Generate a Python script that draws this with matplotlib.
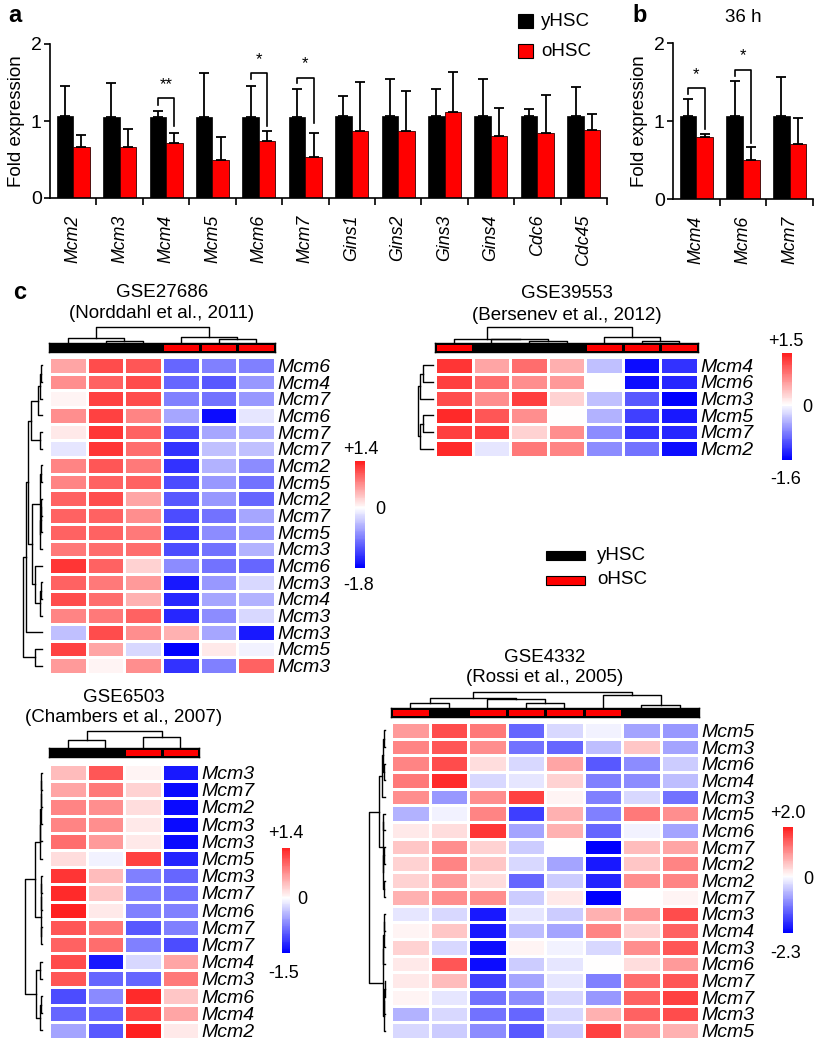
import numpy as np
import matplotlib
matplotlib.use("Agg")
import matplotlib.pyplot as plt
from matplotlib.colors import LinearSegmentedColormap, TwoSlopeNorm, ListedColormap
from matplotlib.patches import Rectangle

plt.rcParams['font.family'] = ['Liberation Sans', 'DejaVu Sans']

# ---------------- data: panel a ----------------
genes_a = ['Mcm2', 'Mcm3', 'Mcm4', 'Mcm5', 'Mcm6', 'Mcm7', 'Gins1', 'Gins2', 'Gins3', 'Gins4', 'Cdc6', 'Cdc45']
yhsc_a = [1.07, 1.05, 1.05, 1.05, 1.05, 1.05, 1.07, 1.07, 1.07, 1.07, 1.07, 1.07]
yhsc_a_err = [0.39, 0.44, 0.08, 0.57, 0.41, 0.36, 0.26, 0.47, 0.35, 0.47, 0.09, 0.37]
ohsc_a = [0.66, 0.66, 0.71, 0.50, 0.74, 0.53, 0.87, 0.87, 1.12, 0.81, 0.85, 0.88]
ohsc_a_err = [0.16, 0.23, 0.13, 0.29, 0.13, 0.32, 0.64, 0.52, 0.51, 0.36, 0.49, 0.21]
# significance: (gene index, left foot, top, right foot, star y, label)
sig_a = [(2, 1.21, 1.30, 0.94, 1.47, '**'),
         (4, 1.54, 1.62, 0.93, 1.80, '*'),
         (5, 1.49, 1.56, 0.97, 1.75, '*')]

# ---------------- data: panel b ----------------
genes_b = ['Mcm4', 'Mcm6', 'Mcm7']
yhsc_b = [1.07, 1.07, 1.07]
yhsc_b_err = [0.21, 0.44, 0.50]
ohsc_b = [0.80, 0.50, 0.71]
ohsc_b_err = [0.03, 0.17, 0.33]
sig_b = [(0, 1.34, 1.42, 0.90, 1.60, '*'),
         (1, 1.58, 1.65, 0.72, 1.84, '*')]

# ---------------- data: heatmaps ----------------
# GSE27686
h1_rows = ['Mcm6', 'Mcm4', 'Mcm7', 'Mcm6', 'Mcm7', 'Mcm7', 'Mcm2', 'Mcm5', 'Mcm2', 'Mcm7',
           'Mcm5', 'Mcm3', 'Mcm6', 'Mcm3', 'Mcm4', 'Mcm3', 'Mcm3', 'Mcm5', 'Mcm3']
h1_groups = ['y', 'y', 'y', 'o', 'o', 'o']
h1_range = (-1.8, 1.4)
h1_vals = [
    [0.56, 1.12, 1.05, -1.08, -0.90, -0.90],
    [0.70, 0.98, 1.12, -1.08, -1.17, -0.72],
    [0.07, 1.19, 1.12, -0.90, -0.99, -0.72],
    [0.70, 1.19, 0.77, -0.63, -1.71, -0.18],
    [0.14, 1.26, 0.98, -1.26, -0.63, -0.54],
    [-0.18, 1.26, 0.91, -1.44, -0.45, -0.45],
    [0.77, 1.05, 0.84, -1.44, -0.54, -0.81],
    [0.77, 0.98, 0.98, -1.26, -0.72, -0.99],
    [0.98, 1.12, 0.56, -1.17, -0.72, -1.08],
    [0.98, 0.98, 0.70, -1.26, -0.99, -0.63],
    [0.98, 0.98, 0.84, -1.35, -0.81, -0.72],
    [0.84, 0.91, 0.91, -1.26, -0.99, -0.54],
    [1.26, 0.98, 0.28, -0.81, -0.99, -1.08],
    [0.98, 0.84, 0.63, -1.62, -0.72, -0.27],
    [1.12, 0.91, 0.49, -1.53, -0.63, -0.54],
    [0.77, 0.84, 0.98, -1.53, -0.81, -0.27],
    [-0.45, 1.12, 0.70, 0.49, -0.63, -1.62],
    [1.19, 0.56, -0.27, -1.80, 0.14, -0.09],
    [0.63, 0.07, 0.70, -1.44, -0.90, 0.98],
]
h1_row_tree = [(0, 1, 0.05), (19, 2, 0.13), (20, 3, 0.22), (4, 5, 0.09), (21, 22, 0.6),
               (6, 7, 0.04), (8, 9, 0.04), (25, 10, 0.07), (26, 11, 0.1), (24, 27, 0.13),
               (13, 14, 0.05), (29, 15, 0.1), (12, 30, 0.36), (28, 31, 0.55), (23, 32, 0.73),
               (33, 16, 0.85), (17, 18, 0.36), (34, 35, 1.0)]
h1_col_tree = [(1, 2, 0.13), (0, 6, 0.29), (4, 5, 0.22), (3, 8, 0.4), (7, 9, 1.0)]

# GSE39553
h2_rows = ['Mcm4', 'Mcm6', 'Mcm3', 'Mcm5', 'Mcm7', 'Mcm2']
h2_groups = ['o', 'y', 'y', 'y', 'o', 'o', 'o']
h2_range = (-1.6, 1.5)
h2_vals = [
    [1.35, 0.60, 0.98, 0.53, -0.40, -1.52, -1.28],
    [1.28, 0.98, 0.75, 0.68, 0.00, -1.52, -1.36],
    [1.20, 0.75, 1.28, 0.30, -0.40, -1.04, -1.60],
    [1.43, 1.13, 0.75, 0.00, -0.48, -1.20, -1.44],
    [1.28, 1.28, 0.30, 0.75, -0.72, -1.28, -1.36],
    [1.43, -0.16, 0.90, 0.83, -0.72, -0.88, -1.52],
]
h2_row_tree = [(0, 1, 0.67), (6, 2, 0.87), (3, 4, 0.67), (8, 5, 0.87), (7, 9, 1.0)]
h2_col_tree = [(2, 3, 0.13), (1, 7, 0.24), (0, 8, 0.28), (5, 6, 0.13), (4, 10, 0.39), (9, 11, 1.0)]

# GSE6503
h3_rows = ['Mcm3', 'Mcm7', 'Mcm2', 'Mcm3', 'Mcm3', 'Mcm5', 'Mcm3', 'Mcm7', 'Mcm6', 'Mcm7',
           'Mcm7', 'Mcm4', 'Mcm3', 'Mcm6', 'Mcm4', 'Mcm2']
h3_groups = ['y', 'y', 'o', 'o']
h3_range = (-1.5, 1.4)
h3_vals = [
    [0.42, 1.05, 0.07, -1.35],
    [0.56, 0.84, 0.28, -1.43],
    [0.77, 0.70, 0.21, -1.43],
    [0.77, 0.70, 0.14, -1.43],
    [0.91, 0.63, 0.14, -1.43],
    [0.21, -0.08, 1.19, -1.28],
    [1.26, 0.42, -0.75, -0.90],
    [1.33, 0.35, -0.75, -0.83],
    [1.40, 0.14, -0.75, -0.75],
    [1.05, 0.84, -0.98, -0.75],
    [0.98, 0.91, -0.75, -1.05],
    [1.12, -1.35, -0.23, 0.56],
    [1.05, -0.90, -0.90, 0.84],
    [-1.05, -0.68, 1.33, 0.35],
    [-0.90, -0.90, 1.19, 0.56],
    [-0.53, -0.98, 1.40, 0.14],
]
h3_row_tree = [(0, 1, 0.04), (16, 2, 0.06), (17, 3, 0.08), (18, 4, 0.1), (19, 5, 0.14),
               (6, 7, 0.03), (21, 8, 0.05), (9, 10, 0.03), (22, 23, 0.08), (20, 24, 0.44),
               (11, 12, 0.14), (13, 14, 0.05), (27, 15, 0.1), (26, 28, 0.34), (25, 29, 1.0)]
h3_col_tree = [(0, 1, 0.46), (2, 3, 0.62), (4, 5, 1.0)]

# GSE4332
h4_rows = ['Mcm5', 'Mcm3', 'Mcm6', 'Mcm4', 'Mcm3', 'Mcm5', 'Mcm6', 'Mcm7', 'Mcm2', 'Mcm2',
           'Mcm7', 'Mcm3', 'Mcm4', 'Mcm3', 'Mcm6', 'Mcm7', 'Mcm7', 'Mcm3', 'Mcm5']
h4_groups = ['o', 'y', 'o', 'o', 'o', 'o', 'y', 'y']
h4_range = (-2.3, 2.0)
h4_vals = [
    [0.90, 1.60, 1.20, -1.38, -0.35, -0.12, -0.81, -0.92],
    [1.10, 1.50, 1.00, -1.27, -1.38, -0.58, 0.50, -0.81],
    [1.10, 1.60, 0.30, -0.35, 0.80, -1.50, -1.04, -0.46],
    [1.20, 1.90, -0.35, -0.23, 0.40, -1.15, -1.04, -0.58],
    [1.00, -0.92, 1.00, 1.70, 0.10, -1.15, -0.35, -1.27],
    [-0.69, -0.12, 1.10, -1.73, 0.70, -1.15, 1.20, 1.00],
    [0.20, 0.30, 1.80, -0.81, 0.70, -1.38, -0.12, -0.81],
    [0.50, 1.00, 0.40, -0.46, 0.00, -2.30, 0.60, 0.80],
    [0.40, 1.10, 0.50, -0.35, -0.81, -2.07, 0.50, 1.10],
    [0.40, 0.90, 0.30, -1.38, -0.46, -1.96, 1.00, 1.10],
    [0.70, 1.00, 1.00, -0.46, 0.20, -2.30, 0.00, 0.10],
    [-0.23, -0.35, -2.07, -0.23, -0.46, 0.70, 0.90, 1.60],
    [0.10, 0.50, -2.07, -0.58, -0.81, 1.10, 0.40, 1.40],
    [0.40, -0.35, -2.19, 0.10, -0.12, -0.35, 1.00, 1.50],
    [0.20, 1.50, -2.19, -0.46, -0.23, 0.00, 0.30, 0.90],
    [0.20, 0.60, -1.73, -0.81, -0.23, -1.15, 1.30, 1.50],
    [0.10, -0.23, -1.27, -1.04, -0.35, -0.92, 1.40, 1.70],
    [-0.69, -0.35, -1.27, -1.38, -0.35, 0.70, 1.40, 1.60],
    [-0.35, -0.46, -1.04, -1.50, -0.46, 1.70, 0.90, 0.70],
]
h4_row_tree = [(0, 1, 0.08), (2, 3, 0.05), (19, 20, 0.12), (21, 4, 0.2), (5, 6, 0.1),
               (7, 8, 0.04), (9, 10, 0.06), (24, 25, 0.1), (23, 26, 0.15), (22, 27, 0.36),
               (11, 12, 0.04), (29, 13, 0.07), (30, 14, 0.1), (15, 16, 0.03), (32, 17, 0.06),
               (33, 18, 0.08), (31, 34, 0.12), (28, 35, 1.0)]
h4_col_tree = [(0, 1, 0.3), (3, 4, 0.34), (2, 9, 0.56), (8, 10, 0.64), (6, 7, 0.2),
               (5, 12, 0.8), (11, 13, 1.0)]

# ---------------- figure ----------------
W, H = 818, 1050
fig = plt.figure(figsize=(W / 100, H / 100), dpi=100)


def pxax(x0, y0, x1, y1):
    return fig.add_axes([x0 / W, 1 - y1 / H, (x1 - x0) / W, (y1 - y0) / H])


def ftext(x, y, s, **kw):
    fig.text(x / W, 1 - y / H, s, **kw)


RED = '#FF0000'


def bar_panel(ax, genes, yv, ye, ov, oe, sig):
    n = len(genes)
    x = np.arange(n)
    bw = 0.355
    ax.bar(x - bw / 2, yv, bw, color='black', edgecolor='black', linewidth=0.5,
           yerr=[np.zeros(n), ye], error_kw=dict(ecolor='black', elinewidth=1.3, capsize=3.8, capthick=1.3))
    ax.bar(x + bw / 2, ov, bw, color=RED, edgecolor='#300000', linewidth=0.6,
           yerr=[np.zeros(n), oe], error_kw=dict(ecolor='black', elinewidth=1.3, capsize=3.8, capthick=1.3))
    for (i, lf, top, rf, sy, lab) in sig:
        xl, xr = i - bw / 2, i + bw / 2
        ax.plot([xl, xl, xr, xr], [lf, top, top, rf], color='black', lw=1.2, clip_on=False)
        ax.text(i, sy, lab, ha='center', va='center', fontsize=12)
    ax.set_xlim(-0.5, n - 0.5)
    ax.set_ylim(0, 2)
    ax.set_yticks([0, 1, 2])
    ax.tick_params(axis='y', labelsize=14, length=4, width=1.2, pad=2)
    ax.set_xticks(x)
    ax.set_xticklabels(genes, rotation=90, style='italic', fontsize=12.8)
    ax.tick_params(axis='x', which='major', length=0, pad=12)
    ax.set_xticks(np.arange(n) + 0.5, minor=True)
    ax.tick_params(axis='x', which='minor', length=5, width=1.2)
    for s in ['top', 'right']:
        ax.spines[s].set_visible(False)
    for s in ['left', 'bottom']:
        ax.spines[s].set_linewidth(1.2)
    ax.set_ylabel('Fold expression', fontsize=13.5, labelpad=4)


# panel a
axa = pxax(50, 44, 607, 198)
bar_panel(axa, genes_a, yhsc_a, yhsc_a_err, ohsc_a, ohsc_a_err, sig_a)
ftext(8, 15, 'a', fontsize=17, fontweight='bold', va='center', ha='left')
# legend
ly = [21, 51]
for (yy, col, lab) in zip(ly, ['black', RED], ['yHSC', 'oHSC']):
    fig.patches.append(Rectangle((518 / W, 1 - (yy + 7) / H), 15 / W, 14 / H, transform=fig.transFigure,
                                 facecolor=col, edgecolor='black', linewidth=0.8))
    ftext(541, yy, lab, fontsize=13.5, va='center', ha='left')

# panel b
axb = pxax(673, 43, 813, 199)
bar_panel(axb, genes_b, yhsc_b, yhsc_b_err, ohsc_b, ohsc_b_err, sig_b)
ftext(632, 15, 'b', fontsize=17, fontweight='bold', va='center', ha='left')
ftext(743, 17, '36 h', fontsize=13.5, va='center', ha='center')

# heatmaps
cmap = LinearSegmentedColormap.from_list('bwr2', ['#0000FF', '#FFFFFF', '#FF2020'])


def draw_tree(ax, tree, n, orient):
    pos = {i: i + 0.5 for i in range(n)}
    hgt = {i: 0.0 for i in range(n)}
    for k, (a, b, h) in enumerate(tree):
        xs = [pos[a], pos[a], pos[b], pos[b]]
        ys = [hgt[a], h, h, hgt[b]]
        if orient == 'top':
            ax.plot(xs, ys, color='black', lw=1.0, clip_on=False)
        else:
            ax.plot(ys, xs, color='black', lw=1.0, clip_on=False)
        pos[n + k] = (pos[a] + pos[b]) / 2
        hgt[n + k] = h
    ax.axis('off')


def heatmap(vals, rows, groups, vrange, rtree, ctree, cells, colbar_y, cdend_y, rdend_x,
            title, title_y, cbar, cb_labels, label_fs=14):
    data = np.array(vals)
    nr, nc = data.shape
    vmin, vmax = vrange
    norm = TwoSlopeNorm(vcenter=0, vmin=vmin, vmax=vmax)
    x0, y0, x1, y1 = cells
    ax = pxax(x0, y0, x1, y1)
    ax.pcolormesh(np.arange(nc + 1), np.arange(nr + 1), data, cmap=cmap, norm=norm,
                  edgecolors='white', linewidth=1.0)
    ax.set_xlim(0, nc)
    ax.set_ylim(nr, 0)
    ax.set_xticks([])
    ax.yaxis.tick_right()
    ax.set_yticks(np.arange(nr) + 0.5)
    ax.set_yticklabels(rows, style='italic', fontsize=label_fs)
    ax.tick_params(axis='y', length=0, pad=2)
    for s in ax.spines.values():
        s.set_visible(False)
    # column group bar
    axc = pxax(x0, colbar_y[0], x1, colbar_y[1])
    gcodes = np.array([[0 if g == 'y' else 1 for g in groups]])
    axc.pcolormesh(np.arange(nc + 1), [0, 1], gcodes, cmap=ListedColormap(['black', RED]),
                   vmin=0, vmax=1, edgecolors='black', linewidth=1.0)
    axc.set_xlim(0, nc)
    axc.set_ylim(0, 1)
    axc.set_xticks([])
    axc.set_yticks([])
    for s in axc.spines.values():
        s.set_linewidth(1.0)
    # column dendrogram
    axd = pxax(x0, cdend_y[0], x1, cdend_y[1])
    axd.set_xlim(0, nc)
    axd.set_ylim(0, 1)
    draw_tree(axd, ctree, nc, 'top')
    # row dendrogram
    axr = pxax(rdend_x[0], y0, rdend_x[1], y1)
    axr.set_xlim(1, 0)
    axr.set_ylim(nr, 0)
    draw_tree(axr, rtree, nr, 'left')
    # title
    cx = (x0 + x1) / 2
    for s, yy in zip(title, title_y):
        ftext(cx, yy, s, fontsize=13.5, ha='center', va='center')
    # colour bar
    bx0, by0, bx1, by1 = cbar
    axb_ = pxax(bx0, by0, bx1, by1)
    grad = np.linspace(vmax, vmin, 120)[:, None]
    axb_.imshow(grad, aspect='auto', cmap=cmap, norm=norm, interpolation='nearest')
    axb_.axis('off')
    for (tx, ty, s, ha) in cb_labels:
        ftext(tx, ty, s, fontsize=13, ha=ha, va='center')


heatmap(h1_vals, h1_rows, h1_groups, h1_range, h1_row_tree, h1_col_tree,
        cells=(49, 357, 275, 674), colbar_y=(343, 352), cdend_y=(327, 343), rdend_x=(23, 42),
        title=['GSE27686', '(Norddahl et al., 2011)'], title_y=[293, 313],
        cbar=(355, 461, 365, 568),
        cb_labels=[(343, 449, '+%.1f' % h1_range[1], 'left'), (380, 510, '0', 'center'),
                   (343, 585, '%.1f' % h1_range[0], 'left')])

heatmap(h2_vals, h2_rows, h2_groups, h2_range, h2_row_tree, h2_col_tree,
        cells=(435, 357, 698, 457), colbar_y=(343, 352), cdend_y=(327, 343), rdend_x=(418, 433),
        title=['GSE39553', '(Bersenev et al., 2012)'], title_y=[294, 315],
        cbar=(782, 353, 792, 460),
        cb_labels=[(768, 342, '+%.1f' % h2_range[1], 'left'), (807, 408, '0', 'center'),
                   (770, 480, '%.1f' % h2_range[0], 'left')])

heatmap(h3_vals, h3_rows, h3_groups, h3_range, h3_row_tree, h3_col_tree,
        cells=(49, 764, 199, 1039), colbar_y=(748, 757), cdend_y=(731, 748), rdend_x=(25, 42),
        title=['GSE6503', '(Chambers et al., 2007)'], title_y=[697, 718],
        cbar=(282, 848, 290, 953),
        cb_labels=[(268, 833, '+%.1f' % h3_range[1], 'left'), (302, 900, '0', 'center'),
                   (268, 973, '%.1f' % h3_range[0], 'left')])

heatmap(h4_vals, h4_rows, h4_groups, h4_range, h4_row_tree, h4_col_tree,
        cells=(391, 722, 699, 1039), colbar_y=(708, 717), cdend_y=(692, 708), rdend_x=(369, 385),
        title=['GSE4332', '(Rossi et al., 2005)'], title_y=[657, 677],
        cbar=(783, 827, 793, 933),
        cb_labels=[(770, 813, '+%.1f' % h4_range[1], 'left'), (808, 879, '0', 'center'),
                   (770, 953, '%.1f' % h4_range[0], 'left')])

ftext(20, 292, 'c', fontsize=17, fontweight='bold', ha='center', va='center')

# middle legend
for (yy, col, lab) in zip([555, 580], ['black', RED], ['yHSC', 'oHSC']):
    fig.patches.append(Rectangle((546 / W, 1 - (yy + 4.5) / H), 39 / W, 9 / H, transform=fig.transFigure,
                                 facecolor=col, edgecolor='black', linewidth=0.8))
    ftext(597, yy, lab, fontsize=13.5, va='center', ha='left')

fig.savefig('out.png', dpi=100)
